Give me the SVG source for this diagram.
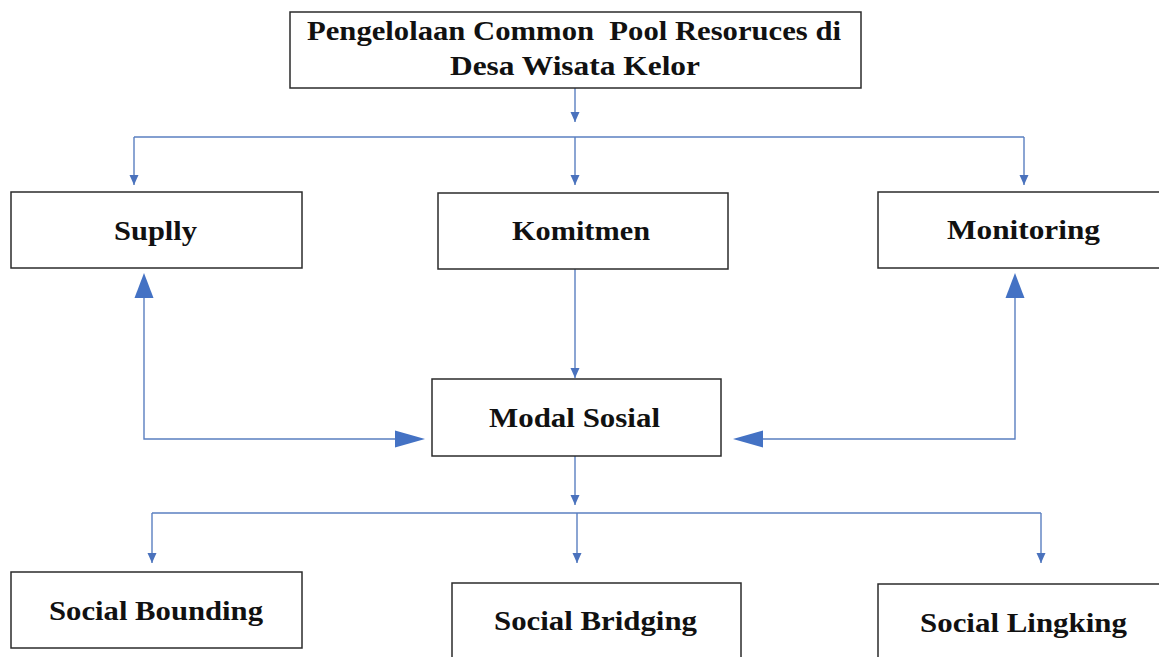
<svg xmlns="http://www.w3.org/2000/svg" width="1159" height="657" viewBox="0 0 1159 657">
<style>
.box{fill:#fff;stroke:#2b2b2b;stroke-width:1.5}
.lbl{font-family:"Liberation Serif","Times New Roman",serif;font-weight:bold;font-size:28px;fill:#111;text-anchor:middle}
.ln{fill:none;stroke:#5a7fc0;stroke-width:1.4}
.big{fill:#4472c4}
</style>
<defs>
<marker id="ah" markerUnits="userSpaceOnUse" markerWidth="10" markerHeight="10" viewBox="0 0 10 10" refX="10" refY="5" orient="auto">
<path d="M0,0.5 L10,5 L0,9.5 Z" fill="#4a72bd"/>
</marker>
</defs>
<rect width="1159" height="657" fill="#fff"/>
<g id="connectors">
<line class="ln" x1="575" y1="88" x2="575" y2="122" marker-end="url(#ah)"/>
<line class="ln" x1="134" y1="137" x2="1024" y2="137"/>
<line class="ln" x1="134" y1="137" x2="134" y2="185" marker-end="url(#ah)"/>
<line class="ln" x1="575" y1="137" x2="575" y2="185" marker-end="url(#ah)"/>
<line class="ln" x1="1024" y1="137" x2="1024" y2="185" marker-end="url(#ah)"/>
<line class="ln" x1="575" y1="269" x2="575" y2="378" marker-end="url(#ah)"/>
<line class="ln" x1="575" y1="456" x2="575" y2="505" marker-end="url(#ah)"/>
<line class="ln" x1="152" y1="513" x2="1041" y2="513"/>
<line class="ln" x1="152" y1="513" x2="152" y2="563" marker-end="url(#ah)"/>
<line class="ln" x1="577" y1="513" x2="577" y2="563" marker-end="url(#ah)"/>
<line class="ln" x1="1041" y1="513" x2="1041" y2="563" marker-end="url(#ah)"/>
<path class="ln" d="M144,297 V439 H396"/>
<polygon class="big" points="144,273 134.5,298 153.5,298"/>
<polygon class="big" points="425,439 395,430.5 395,447.5"/>
<path class="ln" d="M1015,297 V439 H762"/>
<polygon class="big" points="1015,273 1005.5,298 1024.5,298"/>
<polygon class="big" points="733,439 763,430.5 763,447.5"/>
</g>
<g id="node-top">
<rect class="box" x="290" y="12" width="571" height="76"/>
<text class="lbl" x="574" y="40" textLength="534" lengthAdjust="spacingAndGlyphs" xml:space="preserve">Pengelolaan Common  Pool Resoruces di</text>
<text class="lbl" x="575" y="75" textLength="250" lengthAdjust="spacingAndGlyphs">Desa Wisata Kelor</text>
</g>
<g id="node-suplly">
<rect class="box" x="11" y="192" width="291" height="76"/>
<text class="lbl" x="155.5" y="240" textLength="83" lengthAdjust="spacingAndGlyphs">Suplly</text>
</g>
<g id="node-komitmen">
<rect class="box" x="438" y="193" width="290" height="76"/>
<text class="lbl" x="581" y="240" textLength="138" lengthAdjust="spacingAndGlyphs">Komitmen</text>
</g>
<g id="node-monitoring">
<rect class="box" x="878" y="192" width="292" height="76"/>
<text class="lbl" x="1023.5" y="239" textLength="153" lengthAdjust="spacingAndGlyphs">Monitoring</text>
</g>
<g id="node-modal">
<rect class="box" x="432" y="379" width="289" height="77"/>
<text class="lbl" x="574.5" y="427" textLength="171" lengthAdjust="spacingAndGlyphs">Modal Sosial</text>
</g>
<g id="node-bounding">
<rect class="box" x="11" y="572" width="291" height="76"/>
<text class="lbl" x="156" y="620" textLength="214" lengthAdjust="spacingAndGlyphs">Social Bounding</text>
</g>
<g id="node-bridging">
<rect class="box" x="452" y="583" width="289" height="80"/>
<text class="lbl" x="595.5" y="630" textLength="203" lengthAdjust="spacingAndGlyphs">Social Bridging</text>
</g>
<g id="node-lingking">
<rect class="box" x="878" y="584" width="292" height="80"/>
<text class="lbl" x="1023.5" y="632" textLength="207" lengthAdjust="spacingAndGlyphs">Social Lingking</text>
</g>
</svg>
